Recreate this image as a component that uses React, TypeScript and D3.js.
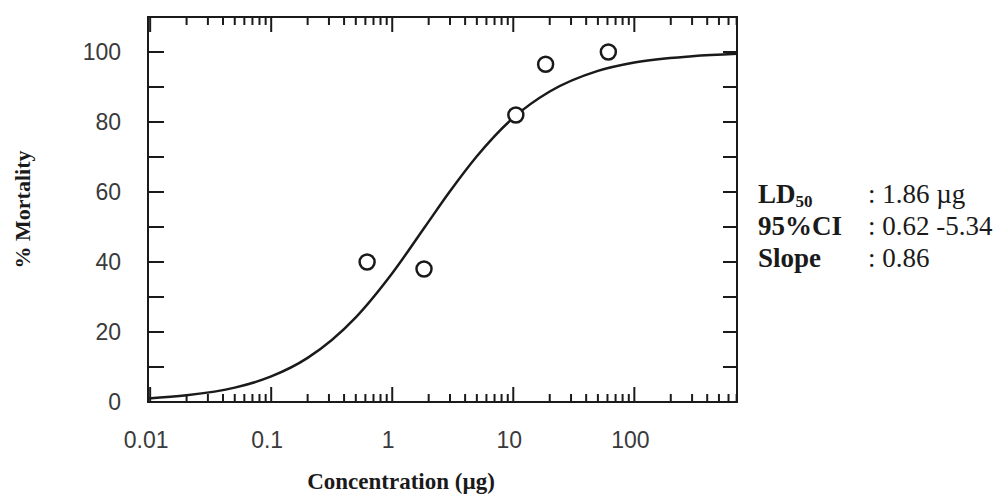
import React from 'react';
import * as d3 from 'd3';

const width = 1000;
const height = 495;
const frame = { left: 148, right: 737, top: 17, bottom: 402 };

// observed points
const concentration = [0.62, 1.83, 10.5, 18.5, 61];
const mortality = [40, 38, 82, 96.5, 100];

// fitted curve
const curveConc = [0.0096, 0.02, 0.05, 0.1, 0.2, 0.5, 1, 1.86, 3, 5, 10, 20, 50, 100, 300, 705];
const curveMort = [1.0, 1.9, 4.1, 7.3, 12.6, 24.2, 36.8, 50, 60.2, 70.2, 81.2, 88.7, 94.6, 97.0, 98.8, 99.5];

const xDecades = [0.01, 0.1, 1, 10, 100];
const xLabels = ['0.01', '0.1', '1', '10', '100'];
const yLabels = [0, 20, 40, 60, 80, 100];
const yTicks = [10, 20, 30, 40, 50, 60, 70, 80, 90, 100];

const statNames = ['LD', '95%CI', 'Slope'];
const statValues = [': 1.86 \u00b5g', ': 0.62 -5.34', ': 0.86'];

const ink = '#1a1a1a';
const serif = '"Liberation Serif", "Times New Roman", serif';
const sans = '"Liberation Sans", Arial, sans-serif';

const xScale = d3.scaleLog().domain([0.0096, 705]).range([frame.left, frame.right]);
const yScale = d3.scaleLinear().domain([0, 110]).range([frame.bottom, frame.top]);

// minor ticks 2..9 in each decade that fits in the frame
const minorTicks: number[] = [];
xDecades.concat([1000]).forEach(d => {
  for (let k = 2; k < 10; k++) {
    const v = d * k;
    if (v < 705) minorTicks.push(v);
  }
});

const line = d3
  .line<number>()
  .x((d, i) => xScale(curveConc[i]))
  .y(d => yScale(d))
  .curve(d3.curveMonotoneX);

export default function App() {
  return (
    <svg
      width={width}
      height={height}
      style={{ position: 'absolute', left: 0, top: 0, background: '#fff' }}
    >
      {/* x ticks, bottom and top, pointing inward */}
      {minorTicks.map((v, i) => (
        <g key={'m' + i} stroke={ink} strokeWidth={2}>
          <line x1={xScale(v)} x2={xScale(v)} y1={frame.bottom} y2={frame.bottom - 8} />
          <line x1={xScale(v)} x2={xScale(v)} y1={frame.top} y2={frame.top + 8} />
        </g>
      ))}
      {xDecades.map((v, i) => (
        <g key={'M' + i} stroke={ink} strokeWidth={2}>
          <line x1={xScale(v)} x2={xScale(v)} y1={frame.bottom} y2={frame.bottom - 15} />
          <line x1={xScale(v)} x2={xScale(v)} y1={frame.top} y2={frame.top + 15} />
        </g>
      ))}
      {/* y ticks, left and right */}
      {yTicks.map((v, i) => (
        <g key={'y' + i} stroke={ink} strokeWidth={2}>
          <line x1={frame.left} x2={frame.left + 16} y1={yScale(v)} y2={yScale(v)} />
          <line x1={frame.right} x2={frame.right - 14} y1={yScale(v)} y2={yScale(v)} />
        </g>
      ))}
      <rect
        x={frame.left}
        y={frame.top}
        width={frame.right - frame.left}
        height={frame.bottom - frame.top}
        fill="none"
        stroke={ink}
        strokeWidth={2}
      />

      {/* tick labels */}
      {xDecades.map((v, i) => (
        <text
          key={'xl' + i}
          x={xScale(v) - 4}
          y={frame.bottom + 46}
          textAnchor="middle"
          fontFamily={sans}
          fontSize={23}
          fill="#3a3a3a"
        >
          {xLabels[i]}
        </text>
      ))}
      {yLabels.map((v, i) => (
        <text
          key={'yl' + i}
          x={121}
          y={yScale(v)}
          dy="0.36em"
          textAnchor="end"
          fontFamily={sans}
          fontSize={23}
          fill="#3a3a3a"
        >
          {v}
        </text>
      ))}

      {/* axis titles */}
      <text
        transform={`translate(30, ${(frame.top + frame.bottom) / 2}) rotate(-90)`}
        textAnchor="middle"
        fontFamily={serif}
        fontWeight="bold"
        fontSize={22}
        fill={ink}
      >
        % Mortality
      </text>
      <text
        x={401}
        y={489}
        textAnchor="middle"
        fontFamily={serif}
        fontWeight="bold"
        fontSize={23}
        fill={ink}
      >
        Concentration (µg)
      </text>

      {/* curve and points */}
      <path d={line(curveMort) || ''} fill="none" stroke={ink} strokeWidth={2.5} />
      {concentration.map((c, i) => (
        <circle
          key={'p' + i}
          cx={xScale(c)}
          cy={yScale(mortality[i])}
          r={7.5}
          fill="#fff"
          stroke={ink}
          strokeWidth={2.5}
        />
      ))}

      {/* stats */}
      {statNames.map((name, i) => (
        <g key={'s' + i} fontFamily={serif} fontSize={27} fill={ink}>
          <text x={758} y={203 + i * 32} fontWeight="bold">
            {name}
            {i === 0 && (
              <tspan fontSize={17} dy={4}>
                50
              </tspan>
            )}
          </text>
          <text x={868} y={203 + i * 32}>
            {statValues[i]}
          </text>
        </g>
      ))}
    </svg>
  );
}
